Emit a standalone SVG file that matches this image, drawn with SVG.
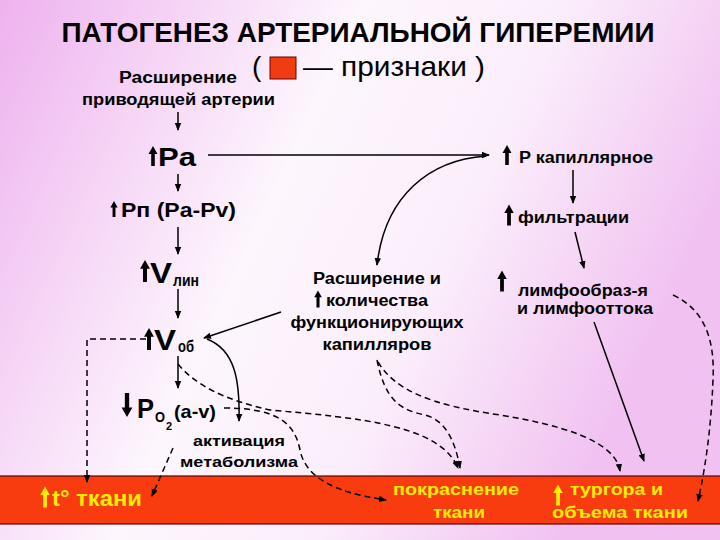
<svg xmlns="http://www.w3.org/2000/svg" xmlns:xlink="http://www.w3.org/1999/xlink" width="720" height="540" viewBox="0 0 720 540">
<style>
text{font-family:"Liberation Sans",Arial,sans-serif;font-weight:bold;fill:#000}
.y{fill:#ffee00}
.n{font-weight:normal}
.c{fill:none;stroke:#000;stroke-width:1.5;marker-end:url(#ah)}
.d{stroke-dasharray:6 4}
</style>
<defs>
<linearGradient id="bg" x1="0" y1="0" x2="1" y2="0.35">
<stop offset="0" stop-color="#eeb2ee"/>
<stop offset="0.45" stop-color="#fdf6fd"/>
<stop offset="0.7" stop-color="#fbeefb"/>
<stop offset="1" stop-color="#f1c2f1"/>
</linearGradient>
<marker id="ah" markerWidth="8" markerHeight="8" refX="7" refY="4" orient="auto" markerUnits="userSpaceOnUse">
<path d="M0 0.8 L8 4 L0 7.2 Z" fill="#000"/>
</marker>
<path id="up" d="M0 -10 L4.5 -2 L1.8 -2 L1.8 10 L-1.8 10 L-1.8 -2 L-4.5 -2 Z"/>
</defs>
<rect width="720" height="540" fill="url(#bg)"/>

<g id="title">
<text x="358" y="42" font-size="28" text-anchor="middle" textLength="593" lengthAdjust="spacingAndGlyphs">ПАТОГЕНЕЗ АРТЕРИАЛЬНОЙ ГИПЕРЕМИИ</text>
<text class="n" x="252" y="76" font-size="28">(</text>
<rect x="270" y="57" width="26" height="22" fill="#f03c10" stroke="#600" stroke-width="1"/>
<text class="n" x="303" y="76" font-size="28" textLength="182" lengthAdjust="spacingAndGlyphs">— признаки )</text>
</g>

<g id="band">
<rect x="-2" y="476" width="724" height="48" fill="#f83c10" stroke="#5a0000" stroke-width="1.2"/>
</g>

<g id="n-start">
<text x="119" y="83" font-size="16" textLength="118" lengthAdjust="spacingAndGlyphs">Расширение</text>
<text x="82" y="105" font-size="16" textLength="193" lengthAdjust="spacingAndGlyphs">приводящей артерии</text>
</g>

<g id="n-pa">
<use xlink:href="#up" transform="translate(153 156)"/>
<text x="158" y="166" font-size="25" textLength="38" lengthAdjust="spacingAndGlyphs">Pa</text>
</g>

<g id="n-pp">
<use xlink:href="#up" transform="translate(114 209) scale(0.8)"/>
<text x="121" y="217" font-size="20" textLength="115" lengthAdjust="spacingAndGlyphs">Pп (Pa-Pv)</text>
</g>

<g id="n-vlin">
<use xlink:href="#up" transform="translate(145 271) scale(1.1)"/>
<text x="150" y="283" font-size="30" textLength="22" lengthAdjust="spacingAndGlyphs">V</text>
<text x="173" y="286" font-size="17" textLength="26" lengthAdjust="spacingAndGlyphs">лин</text>
</g>

<g id="n-vob">
<use xlink:href="#up" transform="translate(149 339) scale(1.1)"/>
<text x="154" y="350" font-size="30" textLength="22" lengthAdjust="spacingAndGlyphs">V</text>
<text x="178" y="352" font-size="17" textLength="16" lengthAdjust="spacingAndGlyphs">об</text>
</g>

<g id="n-po2">
<use xlink:href="#up" transform="translate(127 405) rotate(180) scale(1.2)"/>
<text x="137" y="418" font-size="27" textLength="17" lengthAdjust="spacingAndGlyphs">P</text>
<text x="155" y="422" font-size="14" textLength="10" lengthAdjust="spacingAndGlyphs">O</text>
<text x="166" y="430" font-size="11">2</text>
<text x="174" y="418" font-size="19" textLength="42" lengthAdjust="spacingAndGlyphs">(a-v)</text>
</g>

<g id="n-metab">
<text x="239" y="446" font-size="15" text-anchor="middle" textLength="92" lengthAdjust="spacingAndGlyphs">активация</text>
<text x="239" y="467" font-size="15" text-anchor="middle" textLength="118" lengthAdjust="spacingAndGlyphs">метаболизма</text>
</g>

<g id="n-capil">
<text x="377" y="284" font-size="16" text-anchor="middle" textLength="128" lengthAdjust="spacingAndGlyphs">Расширение и</text>
<use xlink:href="#up" transform="translate(318 299) scale(0.85)"/>
<text x="377" y="306" font-size="16" text-anchor="middle" textLength="102" lengthAdjust="spacingAndGlyphs">количества</text>
<text x="377" y="328" font-size="16" text-anchor="middle" textLength="173" lengthAdjust="spacingAndGlyphs">функционирующих</text>
<text x="377" y="350" font-size="16" text-anchor="middle" textLength="109" lengthAdjust="spacingAndGlyphs">капилляров</text>
</g>

<g id="n-pcap">
<use xlink:href="#up" transform="translate(507 155)"/>
<text x="519" y="163" font-size="16" textLength="134" lengthAdjust="spacingAndGlyphs">P капиллярное</text>
</g>

<g id="n-filt">
<use xlink:href="#up" transform="translate(509 215) scale(1.05)"/>
<text x="518" y="223" font-size="16" textLength="111" lengthAdjust="spacingAndGlyphs">фильтрации</text>
</g>

<g id="n-lymph">
<use xlink:href="#up" transform="translate(502 281) scale(1.05)"/>
<text x="518" y="296" font-size="16" textLength="130" lengthAdjust="spacingAndGlyphs">лимфообраз-я</text>
<text x="517" y="314" font-size="16" textLength="136" lengthAdjust="spacingAndGlyphs">и лимфооттока</text>
</g>

<g id="n-temp">
<use xlink:href="#up" transform="translate(45 497) scale(1.05)" fill="#ffee00"/>
<text class="y" x="52" y="506" font-size="22" textLength="90" lengthAdjust="spacingAndGlyphs">t° ткани</text>
</g>

<g id="n-red">
<text class="y" x="456" y="495" font-size="17" text-anchor="middle" textLength="126" lengthAdjust="spacingAndGlyphs">покраснение</text>
<text class="y" x="459" y="518" font-size="17" text-anchor="middle" textLength="52" lengthAdjust="spacingAndGlyphs">ткани</text>
</g>

<g id="n-turgor">
<use xlink:href="#up" transform="translate(558 495) scale(1.05)" fill="#ffee00"/>
<text class="y" x="570" y="495" font-size="17" textLength="93" lengthAdjust="spacingAndGlyphs">тургора и</text>
<text class="y" x="552" y="518" font-size="17" textLength="136" lengthAdjust="spacingAndGlyphs">объема ткани</text>
</g>

<g id="connectors">
<path class="c" d="M178 112 V130"/>
<path class="c" d="M178 174 V191"/>
<path class="c" d="M178 227 V254"/>
<path class="c" d="M178 289 V318"/>
<path class="c" d="M178 356 V388"/>
<path class="c" d="M208 155 H489"/>
<path class="c" d="M486 156 C430 160 385 195 377 265"/>
<path class="c" d="M573 170 V203"/>
<path class="c" d="M575 232 L584 268"/>
<path class="c" d="M594 322 L644 461"/>
<path class="c" d="M281 312 L204 338"/>
<path class="c" d="M207 339 C235 350 240 380 239 421"/>
<path class="c d" d="M146 339 H87 V482"/>
<path class="c d" d="M178 364 C195 385 225 400 270 410 C360 418 440 425 458 468"/>
<path class="c d" d="M377 360 C385 400 400 410 425 415 C445 420 455 440 460 468"/>
<path class="c d" d="M378 362 C395 390 430 405 500 415 C560 425 615 440 620 471"/>
<path class="c d" d="M673 295 C705 310 715 340 713 380 C711 430 705 470 698 501"/>
<path class="c d" d="M224 408 C280 408 295 425 300 450 C305 475 330 492 386 500"/>
<path class="c d" d="M173 448 L152 496"/>
</g>
</svg>
